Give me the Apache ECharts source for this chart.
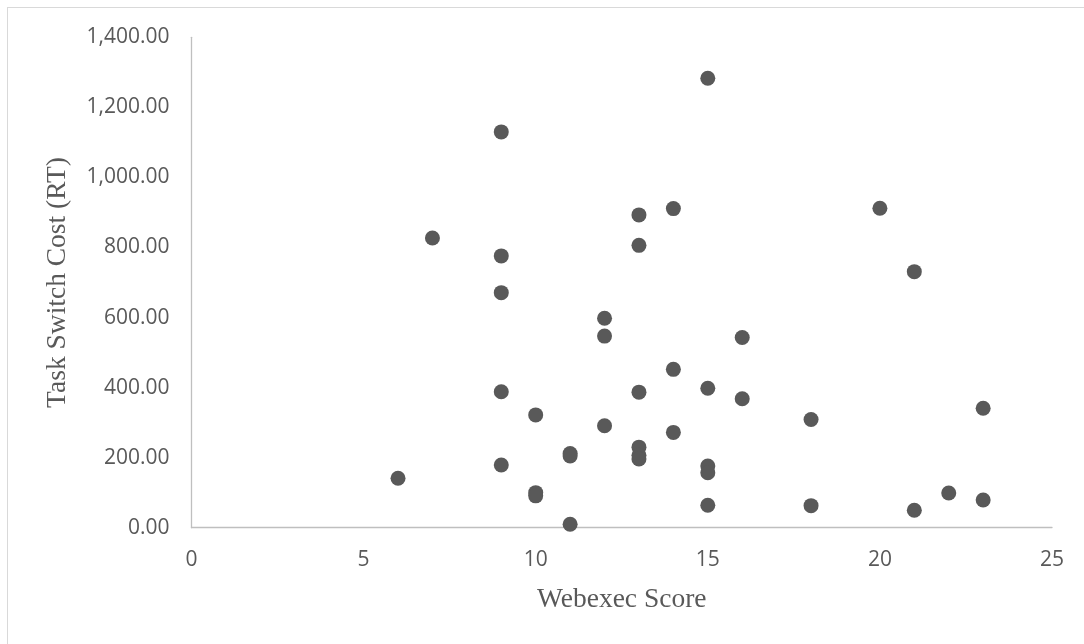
<!DOCTYPE html>
<html>
<head>
<meta charset="utf-8">
<script src="https://cdn.jsdelivr.net/npm/echarts@6/dist/echarts.min.js"></script>
<style>
  html, body { margin: 0; padding: 0; background: #fff; }
  #frame { position: absolute; left: 7px; top: 7px; width: 1077px; height: 637px;
           border-top: 1px solid #d9d9d9; border-left: 1px solid #d9d9d9; box-sizing: border-box; }
  #chart { position: absolute; left: 0; top: 0; width: 1084px; height: 644px; }
</style>
</head>
<body>
<div id="frame"></div>
<div id="chart"></div>
<script>
const webexecScore = [6, 7, 9, 9, 9, 9, 9, 10, 10, 10, 11, 11, 11, 12, 12, 12, 13, 13, 13, 13, 13, 13, 14, 14, 14, 15, 15, 15, 15, 15, 16, 16, 18, 18, 20, 21, 21, 22, 23, 23];
const switchCost = [141, 827, 1130, 776, 671, 388, 179, 322, 100, 91, 212, 205, 10, 598, 547, 291, 893, 806, 387, 230, 207, 196, 911, 452, 272, 1283, 398, 176, 157, 64, 543, 368, 309, 63, 912, 731, 50, 99, 341, 79];
const xTitle = 'Webexec Score';
const yTitle = 'Task Switch Cost (RT)';

const points = webexecScore.map((x, i) => [x, switchCost[i]]);

const chart = echarts.init(document.getElementById('chart'), null, { renderer: 'canvas' });
chart.setOption({
  animation: false,
  backgroundColor: 'transparent',
  grid: { left: 191.5, right: 32, top: 37.3, bottom: 116.3, containLabel: false },
  xAxis: {
    type: 'value', min: 0, max: 25, interval: 5,
    name: xTitle, nameLocation: 'middle', nameGap: 58,
    nameTextStyle: { fontFamily: 'Liberation Serif', fontSize: 27.5, color: '#595959' },
    axisLine: { show: true, lineStyle: { color: '#bfbfbf', width: 1.3 } },
    axisTick: { show: false },
    splitLine: { show: false },
    axisLabel: { fontFamily: 'Open Sans', fontSize: 21, color: '#595959', margin: 22 }
  },
  yAxis: {
    type: 'value', min: 0, max: 1400, interval: 200,
    name: yTitle, nameLocation: 'middle', nameGap: 120,
    nameTextStyle: { fontFamily: 'Liberation Serif', fontSize: 27.5, color: '#595959' },
    axisLine: { show: true, lineStyle: { color: '#bfbfbf', width: 1.3 } },
    axisTick: { show: false },
    splitLine: { show: false },
    axisLabel: {
      fontFamily: 'Open Sans', fontSize: 21, color: '#595959', margin: 22,
      formatter: v => v.toLocaleString('en-US', { minimumFractionDigits: 2, maximumFractionDigits: 2 })
    }
  },
  series: [{
    type: 'scatter',
    data: points,
    symbol: 'circle',
    symbolSize: 15,
    itemStyle: { color: '#595959', opacity: 1 }
  }]
});
</script>
</body>
</html>
